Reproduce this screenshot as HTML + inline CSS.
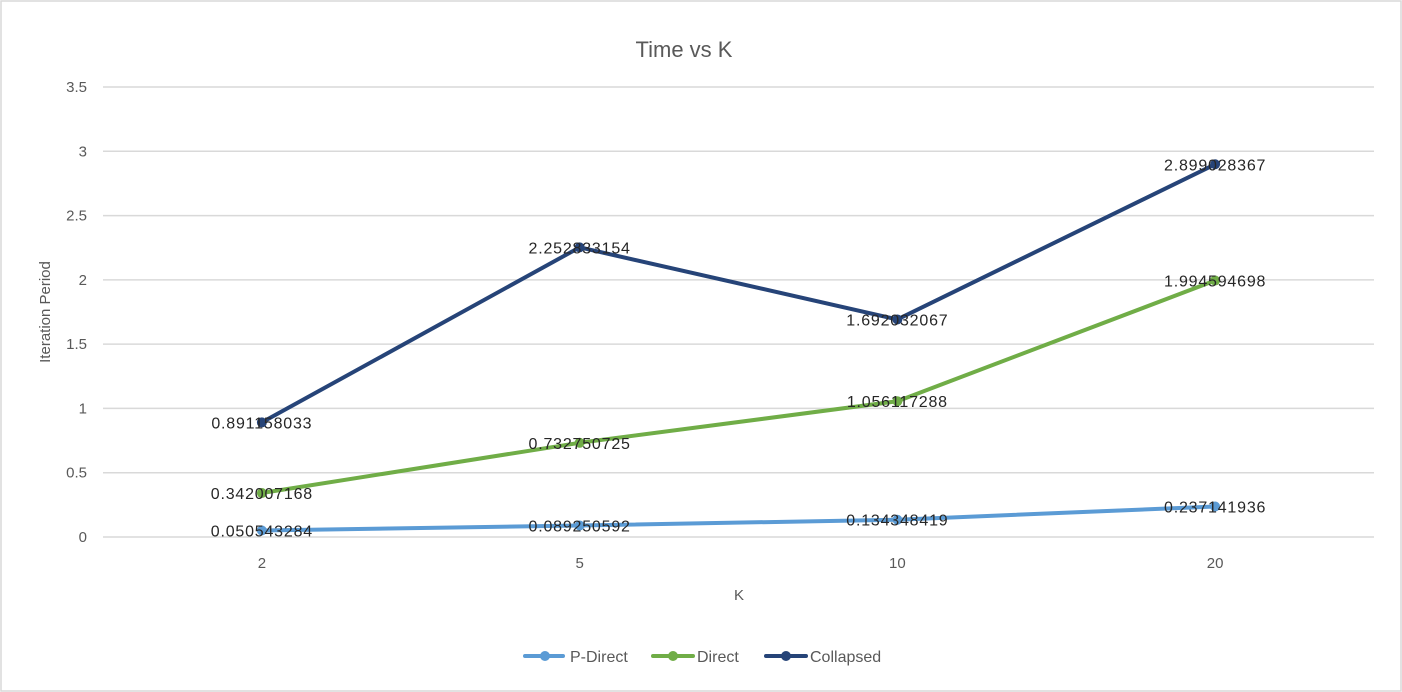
<!DOCTYPE html>
<html><head><meta charset="utf-8"><style>
body{margin:0;background:#fff}
svg{display:block;font-family:"Liberation Sans",Calibri,sans-serif}
</style></head><body>
<svg id="chart" width="1402" height="692">
<rect x="1" y="1" width="1400" height="690" fill="#fff" stroke="#d9d9d9" stroke-width="1.5"/>
<text x="684" y="57" text-anchor="middle" font-size="22" fill="#595959">Time vs K</text>
<text transform="translate(50,312) rotate(-90)" text-anchor="middle" font-size="15" fill="#595959">Iteration Period</text>
<text x="739" y="600" text-anchor="middle" font-size="15" fill="#595959">K</text>
<g id="grid"></g><g id="series"></g><g id="labels"></g>
<g font-size="16" fill="#595959">
<g><line x1="525" y1="656" x2="563" y2="656" stroke="#5b9bd5" stroke-width="4" stroke-linecap="round"/><circle cx="545" cy="656" r="5" fill="#5b9bd5"/><text x="570" y="662">P-Direct</text></g>
<g><line x1="653" y1="656" x2="693" y2="656" stroke="#70ad47" stroke-width="4" stroke-linecap="round"/><circle cx="673" cy="656" r="5" fill="#70ad47"/><text x="697" y="662">Direct</text></g>
<g><line x1="766" y1="656" x2="806" y2="656" stroke="#264478" stroke-width="4" stroke-linecap="round"/><circle cx="786" cy="656" r="5" fill="#264478"/><text x="810" y="662">Collapsed</text></g>
</g>
</svg>
<script>
const categories=["2","5","10","20"];
const pDirect=[0.050543284,0.089250592,0.134348419,0.237141936];
const direct=[0.342007168,0.732750725,1.056117288,1.994594698];
const collapsed=[0.891158033,2.252833154,1.692032067,2.899028367];
const yTicks=[0,0.5,1,1.5,2,2.5,3,3.5];
const NS="http://www.w3.org/2000/svg";
const x0=103,x1=1374,yBase=537,yTop=87,yMax=3.5;
const xs=i=>x0+(x1-x0)*(i+0.5)/categories.length;
const ys=v=>yBase-(yBase-yTop)*v/yMax;
function mk(tag,attrs,parent,txt){const e=document.createElementNS(NS,tag);for(const k in attrs)e.setAttribute(k,attrs[k]);if(txt!==undefined)e.textContent=txt;parent.appendChild(e);return e;}
const grid=document.getElementById('grid');
yTicks.forEach(t=>{
 const l=mk('line',{x1:x0,x2:x1,y1:ys(t),y2:ys(t),stroke:'#d9d9d9','stroke-width':1.5},grid);
 
 
 const tx=mk('text',{x:87,y:ys(t)+5,'text-anchor':'end','font-size':15,fill:'#595959'},grid,String(t));
 
 
});
categories.forEach((c,i)=>{
 const tx=mk('text',{x:xs(i),y:568,'text-anchor':'middle','font-size':15,fill:'#595959'},grid,c);
 
 
});
const ser=document.getElementById('series'),lab=document.getElementById('labels');
[[pDirect,'#5b9bd5','p-direct'],[direct,'#70ad47','direct'],[collapsed,'#264478','collapsed']].forEach(([d,col,nm])=>{
 const p=mk('polyline',{points:d.map((v,i)=>xs(i)+','+ys(v)).join(' '),fill:'none',stroke:col,'stroke-width':4,'stroke-linejoin':'round','stroke-linecap':'round'},ser);
 
 
 d.forEach((v,i)=>{
  const c=mk('circle',{cx:xs(i),cy:ys(v),r:5,fill:col},ser);
  
  
  const t=mk('text',{x:xs(i),y:ys(v)+6,'text-anchor':'middle','font-size':16,'letter-spacing':0.8,fill:'#262626'},lab,String(v));
  
  
 });
});
</script>
</body></html>
